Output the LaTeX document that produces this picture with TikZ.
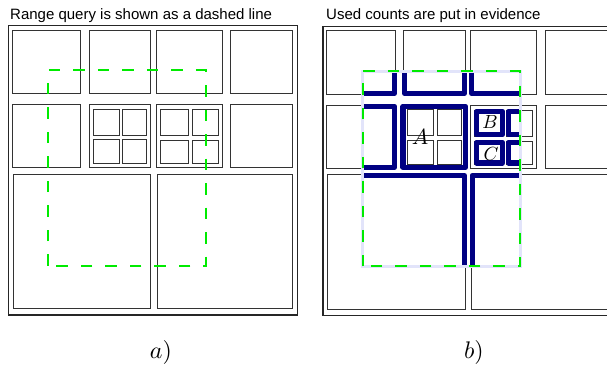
\documentclass[tikz,border=0pt]{standalone}
\usepackage{fontspec}
\usepackage{graphicx}
\newfontfamily\titlefont{Liberation Sans}
\definecolor{hiblue}{RGB}{0,0,130}
\definecolor{qgreen}{RGB}{0,235,0}
\definecolor{lav}{RGB}{226,228,250}
\newcommand\mypanelcells{%
  \draw[frameline] (8.3,25.7) rectangle (297.3,315);
  % top row
  \draw[cellline] (12.3,30) rectangle (80.7,93.3);
  \draw[cellline] (89.3,30) rectangle (150.7,93.3);
  \draw[cellline] (156.3,30) rectangle (222.3,93.3);
  \draw[cellline] (230.7,30) rectangle (292.7,93.3);
  % middle row
  \draw[cellline] (12.3,104.7) rectangle (80.7,167.3);
  \draw[cellline] (89.3,104.7) rectangle (150.7,167.3);
  \draw[cellline] (93,109) rectangle (119.3,135);
  \draw[cellline] (122.7,109) rectangle (146.7,135);
  \draw[cellline] (93,139.7) rectangle (119.3,163.3);
  \draw[cellline] (122.7,139.7) rectangle (146.7,163.3);
  \draw[cellline] (156.3,104.7) rectangle (222.3,167.3);
  \draw[cellline] (160.3,109.3) rectangle (188.3,135.3);
  \draw[cellline] (192.3,109.3) rectangle (218.3,135.3);
  \draw[cellline] (160.3,140.3) rectangle (188.3,163.3);
  \draw[cellline] (192.3,140.3) rectangle (218.3,163.3);
  \draw[cellline] (230.7,104.7) rectangle (292.7,167.3);
  % bottom row
  \draw[cellline] (13.3,174) rectangle (150.7,308.3);
  \draw[cellline] (157.3,174) rectangle (292.7,308.3);
}
\begin{document}
\begin{tikzpicture}[x=1pt,y=-1pt,
  frameline/.style={draw=black!85,line width=1.4pt},
  cellline/.style={draw=black!80,line width=0.8pt},
  hilite/.style={draw=hiblue,line width=5.2pt,line join=round},
  querydash/.style={draw=qgreen,line width=2pt,dash pattern=on 11.5pt off 13pt},
  queryunder/.style={draw=lav,line width=3pt},
  titletext/.style={font=\titlefont\fontsize{15}{18}\selectfont,anchor=base west,inner sep=0pt},
  captext/.style={inner sep=0pt}]
\useasboundingbox (0,0) rectangle (607,368);
\clip (0,0) rectangle (607,368);
\fill[white] (0,0) rectangle (607,368);

% ---------- panel a ----------
\node[titletext] (titleA) at (10,19) {Range query is shown as a dashed line};
\mypanelcells
\draw[querydash] (48.3,265.7) -- (48.3,70.3) -- (205.7,70.3) -- (205.7,265.7) -- cycle;
\node[captext] (capA) at (161,352) {\scalebox{2.4}{$a)$}};

% ---------- panel b ----------
\node[titletext] (titleB) at (326,19) {Used counts are put in evidence};
\begin{scope}[shift={(314.5,0.7)}]
  \mypanelcells
  \begin{scope}
    \clip (48.3,70.3) rectangle (205.7,265.7);
    \draw[hilite] (13.1,30.8) rectangle (79.9,92.5);
    \draw[hilite] (90.1,30.8) rectangle (149.9,92.5);
    \draw[hilite] (157.1,30.8) rectangle (221.5,92.5);
    \draw[hilite] (13.1,105.5) rectangle (79.9,166.5);
    \draw[hilite] (88.5,105.5) rectangle (150.9,166.5);
    \draw[hilite] (162.3,110.6) rectangle (188.1,134.0);
    \draw[hilite] (194.0,110.6) rectangle (218.0,134.0);
    \draw[hilite] (162.3,141.6) rectangle (188.1,162.2);
    \draw[hilite] (194.0,141.6) rectangle (218.0,162.2);
    \draw[hilite] (14.1,174.8) rectangle (149.9,307.5);
    \draw[hilite] (157.6,174.8) rectangle (291.9,307.5);
  \end{scope}
  \node[inner sep=0pt] (labA) at (105.5,136) {\scalebox{2.2}{$A$}};
  \node[inner sep=0pt] (labB) at (175.5,121.5) {\scalebox{1.9}{$B$}};
  \node[inner sep=0pt] (labC) at (176.5,153.5) {\scalebox{1.9}{$C$}};
  \draw[queryunder] (48.3,265.7) -- (48.3,70.3) -- (205.7,70.3) -- (205.7,265.7) -- cycle;
  \draw[querydash] (48.3,265.7) -- (48.3,70.3) -- (205.7,70.3) -- (205.7,265.7) -- cycle;
\end{scope}
\node[captext] (capB) at (474,352) {\scalebox{2.4}{$b)$}};
\end{tikzpicture}
\end{document}
